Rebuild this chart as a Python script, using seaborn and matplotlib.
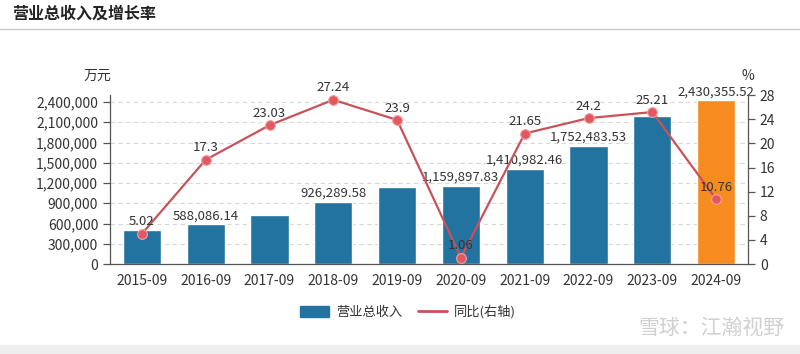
import numpy as np
import pandas as pd
import seaborn as sns
import matplotlib.pyplot as plt
from matplotlib.patches import Patch
from matplotlib.lines import Line2D

# data (万元 / %)
aYears = ["2015-09", "2016-09", "2017-09", "2018-09", "2019-09",
          "2020-09", "2021-09", "2022-09", "2023-09", "2024-09"]
aRevenue = [501352.0, 588086.14, 723522.0, 926289.58, 1147673.0,
            1159897.83, 1410982.46, 1752483.53, 2194285.0, 2430355.52]
aGrowth = [5.02, 17.3, 23.03, 27.24, 23.9, 1.06, 21.65, 24.2, 25.21, 10.76]
# which bars carry a value label in the original
aShowBarLabel = [False, True, False, True, False, True, True, True, False, True]

sns.set_theme(style="white")
plt.rcParams["font.family"] = ["Noto Sans CJK SC", "DejaVu Sans"]

sBlue = "#22739f"
sOrange = "#f68b1f"
sRed = "#c9525a"
sAxis = "#555555"

oData = pd.DataFrame({"year": aYears, "revenue": aRevenue})
aColors = [sBlue] * (len(aYears) - 1) + [sOrange]

oFig = plt.figure(figsize=(8, 3.54), dpi=100, facecolor="white")
oAx = oFig.add_axes([0.1375, 0.254, 0.7975, 0.477])

sns.barplot(data=oData, x="year", y="revenue", hue="year",
            palette=aColors, legend=False, width=0.6, ax=oAx, saturation=1)
oAx.set_xlim(-0.5, len(aYears) - 0.5)
oAx.set_ylim(0, 2500000)
oAx.set_yticks(np.arange(0, 2400001, 300000))
oAx.set_yticklabels([f"{int(v):,}" for v in np.arange(0, 2400001, 300000)])
oAx.set_xlabel("")
oAx.set_ylabel("")
oAx.grid(axis="y", linestyle=(0, (4, 3)), color="#d8d8d8", linewidth=0.8)
oAx.set_axisbelow(True)
for sSide in ["top", "right"]:
    oAx.spines[sSide].set_visible(False)
for sSide in ["left", "bottom"]:
    oAx.spines[sSide].set_color(sAxis)
    oAx.spines[sSide].set_linewidth(0.9)
oAx.tick_params(axis="both", colors=sAxis, labelcolor="#333333",
                labelsize=10, length=5, width=0.9, direction="out")
oAx.tick_params(axis="x", pad=2)

# bar value labels
for i, (fVal, bShow) in enumerate(zip(aRevenue, aShowBarLabel)):
    if bShow:
        oAx.text(i, fVal + 25000, f"{fVal:,.2f}", ha="center", va="bottom",
                 fontsize=9.5, color="#333333")

# growth line on right axis
oAx2 = oAx.twinx()
sns.lineplot(x=np.arange(len(aYears)), y=aGrowth, ax=oAx2, color=sRed,
             linewidth=1.6, marker="o", markersize=7,
             markerfacecolor="#e0595f", markeredgecolor="#f3a0a3",
             markeredgewidth=0.8)
oAx2.set_ylim(0, 28)
oAx2.set_yticks(np.arange(0, 29, 4))
oAx2.set_ylabel("")
for sSide in ["top", "left", "bottom"]:
    oAx2.spines[sSide].set_visible(False)
oAx2.spines["right"].set_color(sAxis)
oAx2.spines["right"].set_linewidth(0.9)
oAx2.tick_params(axis="y", colors=sAxis, labelcolor="#333333",
                 labelsize=10, length=5, width=0.9, direction="out")
oAx2.grid(False)

for i, fVal in enumerate(aGrowth):
    oAx2.text(i, fVal + 0.9, f"{fVal:g}", ha="center", va="bottom",
              fontsize=9.5, color="#333333")

# unit labels
oFig.text(97 / 800, 1 - 76 / 354, "万元", ha="center", va="center",
          fontsize=10, color="#333333")
oFig.text(748 / 800, 1 - 76 / 354, "%", ha="center", va="center",
          fontsize=10, color="#333333")

# title and separator
oFig.text(12 / 800, 1 - 14 / 354, "营业总收入及增长率", ha="left", va="center",
          fontsize=11.5, color="#222222", fontweight="bold")
oFig.add_artist(Line2D([0, 1], [1 - 29 / 354, 1 - 29 / 354],
                       color="#cccccc", linewidth=1))
# grey footer band
oFig.add_artist(plt.Rectangle((0, 0), 1, 9 / 354, color="#eeeeee",
                              transform=oFig.transFigure, zorder=0))

# legend
aHandles = [Patch(facecolor=sBlue, edgecolor=sBlue, label="营业总收入"),
            Line2D([0], [0], color=sRed, linewidth=2, label="同比(右轴)")]
oFig.legend(handles=aHandles, loc="center", bbox_to_anchor=(0.51, 1 - 312 / 354),
            ncol=2, frameon=False, fontsize=9.5, handlelength=2.2,
            handleheight=1.0, columnspacing=1.2, handletextpad=0.5,
            labelcolor="#333333")

# watermark
oFig.text(785 / 800, 1 - 328 / 354, "雪球：江瀚视野", ha="right", va="center",
          fontsize=15, color="#d0d0d0")

oFig.savefig("out.png", dpi=100, facecolor="white")
